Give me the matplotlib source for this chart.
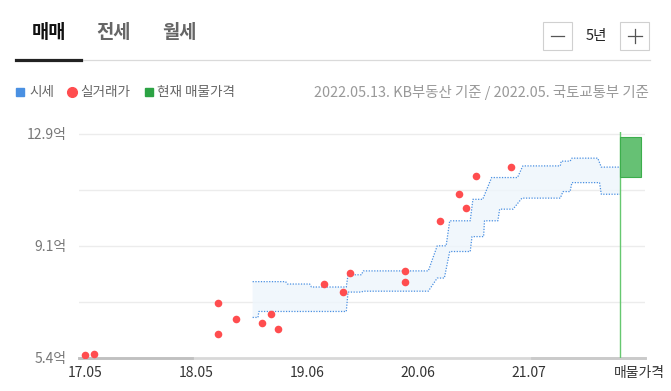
import numpy as np
import matplotlib.pyplot as plt
from matplotlib.patches import Rectangle
from matplotlib.lines import Line2D

plt.rcParams['font.family'] = ['Noto Sans CJK KR', 'DejaVu Sans']

W, H = 671, 391

# x is counted in months from 2017.05
tick_pos = [0, 12.45, 24.9, 37.35, 49.8, 62.2]
tick_lab = ['17.05', '18.05', '19.06', '20.06', '21.07', '매물가격']
grid_vals = [5.4, 7.275, 9.15, 11.025, 12.9]
grid_labs = ['5.4억', '', '9.1억', '', '12.9억']

# 실거래가
deal_month = [0.0, 1.0, 14.9, 14.9, 16.9, 19.9, 20.9, 21.7, 26.8, 28.9,
              29.7, 35.9, 35.9, 39.8, 41.9, 42.7, 43.8, 47.8]
deal_price = [5.50, 5.52, 7.25, 6.19, 6.71, 6.55, 6.86, 6.35, 7.87, 7.61,
              8.24, 8.31, 7.94, 9.98, 10.88, 10.43, 11.49, 11.78]

# 시세 상한 / 하한
up_month = [18.8, 22.5, 22.7, 25.2, 25.4, 29.3, 29.5, 31.0, 31.2, 38.5,
            39.5, 40.5, 40.9, 43.2, 43.5, 44.6, 45.6, 48.5, 49.1, 53.3,
            53.4, 54.4, 54.6, 57.5, 57.9, 60.0]
up_price = [7.95, 7.95, 7.87, 7.87, 7.77, 7.77, 8.18, 8.18, 8.31, 8.31,
            9.15, 9.15, 9.99, 9.99, 10.71, 10.71, 11.44, 11.44, 11.83, 11.83,
            11.99, 11.99, 12.09, 12.09, 11.79, 11.79]
low_month = [18.8, 19.4, 19.5, 29.3, 29.5, 31.0, 31.2, 38.5, 39.5, 40.3,
             40.9, 43.2, 43.4, 44.7, 44.8, 46.3, 46.5, 48.0, 49.0, 53.3,
             53.6, 54.4, 54.6, 57.7, 57.9, 60.0]
low_price = [6.75, 6.75, 6.95, 6.95, 7.60, 7.60, 7.63, 7.63, 8.07, 8.07,
             8.96, 8.96, 9.46, 9.46, 9.99, 9.99, 10.38, 10.38, 10.75, 10.75,
             10.97, 10.97, 11.27, 11.27, 10.88, 10.88]

# 현재 매물가격
ask_month = 60
ask_low, ask_high = 11.47, 12.8


def fx(x):
    return x / W


def fy(y):
    return 1 - y / H


fig = plt.figure(figsize=(W / 100, H / 100), dpi=100)
ax = fig.add_axes([fx(79), fy(357.7), (645 - 79) / W, (357.7 - 132) / H])
ax.set_xlim(-0.67, 62.8)
ax.set_ylim(5.4, 12.967)

for v in grid_vals[1:]:
    ax.axhline(v, color='#ececec', lw=1, zorder=0)

# 시세 band
ax.fill(np.r_[up_month, low_month[::-1]], np.r_[up_price, low_price[::-1]],
        color='#eef5fc', alpha=0.8, lw=0, zorder=1)
ax.plot(up_month, up_price, color='#4a90e2', lw=0.9, ls=(0, (1, 1.2)), zorder=2)
ax.plot(low_month, low_price, color='#4a90e2', lw=0.9, ls=(0, (1, 1.2)), zorder=2)

ax.scatter(deal_month, deal_price, s=30, color='#ff4d4f', lw=0, zorder=4)

ax.axvline(ask_month, color='#66c870', lw=1, zorder=3)
ax.add_patch(Rectangle((ask_month, ask_low), 2.36, ask_high - ask_low,
                       facecolor='#66c174', edgecolor='#3cae4c', lw=0.8, zorder=3))

# bottom axis line
ax.axhline(5.4, color='#d8d8d8', lw=2, zorder=2, clip_on=False)
ax.plot([-0.67, 12.0], [5.4, 5.4], color='#c0c0c0', lw=2, zorder=2, clip_on=False)
ax.plot([50.1, 62.8], [5.4, 5.4], color='#cacaca', lw=2, zorder=2, clip_on=False)

for s in ax.spines.values():
    s.set_visible(False)
ax.set_xticks(tick_pos)
ax.set_xticklabels(tick_lab, fontsize=10, color='#333')
ax.set_yticks(grid_vals)
ax.set_yticklabels(grid_labs, fontsize=10, color='#777')
ax.tick_params(length=0)
ax.tick_params(axis='x', pad=6)
ax.tick_params(axis='y', pad=9)

# tabs
fig.text(fx(49), fy(33), '매매', ha='center', va='center', fontsize=13.5,
         weight='bold', color='#111')
fig.text(fx(114), fy(33), '전세', ha='center', va='center', fontsize=13.5,
         weight='bold', color='#666')
fig.text(fx(179.5), fy(33), '월세', ha='center', va='center', fontsize=13.5,
         weight='bold', color='#666')
fig.add_artist(Line2D([fx(81), fx(650)], [fy(60), fy(60)], lw=0.9, color='#dadada'))
fig.add_artist(Line2D([fx(16), fx(81)], [fy(60), fy(60)], lw=2.3, color='#222'))

# period buttons
for x0 in [543, 620]:
    fig.add_artist(Rectangle((fx(x0), fy(50)), 29 / W, 28 / H, facecolor='white',
                             edgecolor='#d0d0d0', lw=0.8))
fig.add_artist(Line2D([fx(551), fx(564)], [fy(36), fy(36)], lw=0.9, color='#555'))
fig.add_artist(Line2D([fx(628), fx(642)], [fy(36), fy(36)], lw=0.9, color='#555'))
fig.add_artist(Line2D([fx(635), fx(635)], [fy(29), fy(43)], lw=0.9, color='#555'))
fig.text(fx(596), fy(36), '5년', ha='center', va='center', fontsize=10.5, color='#222')

# legend
fig.add_artist(Line2D([fx(20)], [fy(92)], marker='s', ms=6, color='#4a90e2', ls='none'))
fig.text(fx(29), fy(92), '시세', va='center', fontsize=9.8, color='#666')
fig.add_artist(Line2D([fx(72)], [fy(92)], marker='o', ms=7, color='#ff4d4f', ls='none'))
fig.text(fx(80), fy(92), '실거래가', va='center', fontsize=9.8, color='#666')
fig.add_artist(Line2D([fx(148.5)], [fy(92)], marker='s', ms=6, color='#2ca344', ls='none'))
fig.text(fx(157), fy(92), '현재 매물가격', va='center', fontsize=9.8, color='#666')
fig.text(fx(649), fy(92), '2022.05.13. KB부동산 기준 / 2022.05. 국토교통부 기준',
         ha='right', va='center', fontsize=10.4, color='#999')

fig.savefig('out.png', dpi=100)
